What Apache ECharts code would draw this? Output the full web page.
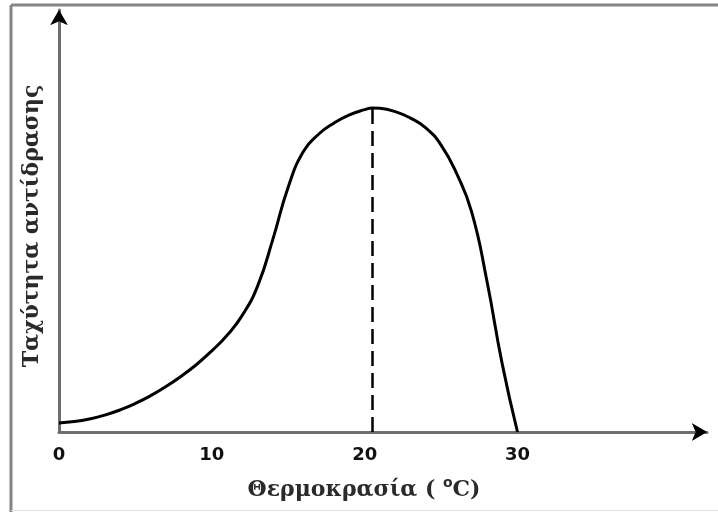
<!DOCTYPE html>
<html>
<head>
<meta charset="utf-8">
<script src="https://cdn.jsdelivr.net/npm/echarts@6/dist/echarts.min.js"></script>
<style>
html,body{margin:0;padding:0;background:#fff}
#main{width:718px;height:512px}
</style>
</head>
<body>
<div id="main"></div>
<script>
// temperature (°C)
var temps = [0, 1, 2, 3, 4, 5, 6, 7, 8, 9, 10, 11, 12, 13, 14, 15, 16, 17, 18, 19, 20, 20.5, 21, 22, 23, 24, 25, 26, 27, 28, 29, 30];
// reaction rate (arbitrary units, peak = 100)
var rates = [2.8, 3.2, 4.0, 5.2, 6.8, 8.8, 11.2, 14.0, 17.2, 20.8, 25.0, 29.8, 36.0, 45.0, 59.5, 75.5, 86.5, 91.8, 95.2, 97.7, 99.3, 99.8, 99.7, 98.7, 96.7, 93.7, 88.4, 79.8, 67.8, 46.5, 21.0, 0];
var tickLabels = [0, 10, 20, 30];

var xName = 'Θερμοκρασία ( {sup|o}C)';
var yName = 'Ταχύτητα αντίδρασης';

var points = temps.map(function (t, i) { return [t, rates[i]]; });

// peak of the curve -> dashed drop line
var peakIdx = 0;
rates.forEach(function (r, i) { if (r > rates[peakIdx]) peakIdx = i; });
var peakT = temps[peakIdx], peakR = rates[peakIdx];

var myChart = echarts.init(document.getElementById('main'));

// black arrow heads sit on top of the grey axis lines
var arrowAxis = {
	show: true,
	splitLine: { show: false },
	axisTick: { show: false },
	axisLabel: { show: false },
	axisLine: { symbol: ['none', 'arrow'], symbolSize: [13, 15], lineStyle: { color: '#000', width: 0 } }
};

myChart.setOption({
	animation: false,
	backgroundColor: '#fff',
	grid: { left: 59, right: 11, top: 10, bottom: 80, containLabel: false },
	graphic: [
		{ type: 'line', shape: { x1: 11, y1: 5, x2: 11, y2: 512 }, style: { stroke: '#858585', lineWidth: 3 } },
		{ type: 'line', shape: { x1: 11, y1: 5, x2: 718, y2: 5 }, style: { stroke: '#858585', lineWidth: 3 } },
		{ type: 'line', shape: { x1: 11, y1: 510.5, x2: 718, y2: 510.5 }, style: { stroke: '#dedede', lineWidth: 1 } }
	],
	xAxis: [{
		type: 'value',
		position: 'bottom',
		min: 0,
		max: 42.4,
		interval: 10,
		splitLine: { show: false },
		axisTick: { show: false },
		axisLine: {
			symbol: ['none', 'arrow'],
			symbolSize: [13, 15],
			lineStyle: { color: '#6e6e6e', width: 3 }
		},
		axisLabel: {
			margin: 14,
			fontFamily: 'DejaVu Sans',
			fontWeight: 'bold',
			fontSize: 18,
			color: '#111',
			showMaxLabel: false,
			formatter: function (v) { return tickLabels.indexOf(v) >= 0 ? String(v) : ''; }
		},
		name: xName,
		nameLocation: 'middle',
		nameGap: 44,
		nameTextStyle: {
			fontFamily: 'DejaVu Serif',
			fontWeight: 'bold',
			fontSize: 22,
			color: '#2a2a2a',
			padding: [0, 38, 0, 0],
			rich: {
				sup: { fontFamily: 'DejaVu Sans', fontWeight: 'bold', fontSize: 14, color: '#2a2a2a', padding: [0, 0, 14, 0] }
			}
		}
	}, Object.assign({ type: 'value', position: 'bottom', min: 0, max: 42.4 }, arrowAxis)],
	yAxis: [{
		type: 'value',
		position: 'left',
		min: 0,
		max: 130,
		splitLine: { show: false },
		axisTick: { show: false },
		axisLabel: { show: false },
		axisLine: {
			symbol: ['none', 'arrow'],
			symbolSize: [13, 15],
			lineStyle: { color: '#6e6e6e', width: 3 }
		},
		name: yName,
		nameLocation: 'middle',
		nameGap: 16,
		nameTextStyle: {
			fontFamily: 'DejaVu Serif',
			fontWeight: 'bold',
			fontSize: 22,
			color: '#2a2a2a',
			padding: [0, 10, 0, 0]
		}
	}, Object.assign({ type: 'value', position: 'left', min: 0, max: 130 }, arrowAxis)],
	series: [{
		type: 'line',
		data: points,
		smooth: 0.5,
		showSymbol: false,
		lineStyle: { color: '#000', width: 3 },
		markLine: {
			silent: true,
			symbol: ['none', 'none'],
			label: { show: false },
			lineStyle: { type: [15, 7], color: '#000', width: 2.5 },
			data: [[{ coord: [peakT, 0] }, { coord: [peakT, peakR] }]]
		}
	}]
});
</script>
</body>
</html>
